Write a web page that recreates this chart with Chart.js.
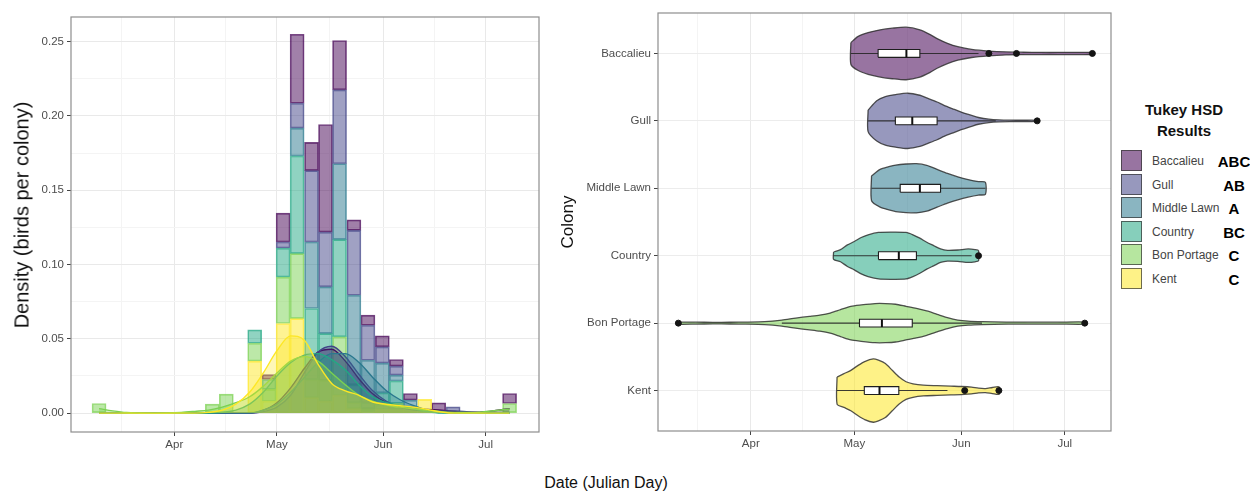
<!DOCTYPE html>
<html><head><meta charset="utf-8">
<script src="https://cdn.jsdelivr.net/npm/chart.js@4.4.1/dist/chart.umd.min.js"></script>
<style>
html,body{margin:0;padding:0;background:#fff;width:1250px;height:496px;overflow:hidden;font-family:"Liberation Sans",Arial,sans-serif;}
canvas{position:absolute;top:0;}
#c1{left:0;}
#c2{left:540px;}
.t{position:absolute;white-space:nowrap;color:#111;}
.rot{width:400px;text-align:center;transform:translate(-50%,-50%) rotate(-90deg);}
.ctr{transform:translate(-50%,-50%);}
.key{position:absolute;width:21px;height:21px;box-sizing:border-box;}
.lab{position:absolute;font-size:12px;color:#444;transform:translateY(-50%);white-space:nowrap;}
.let{position:absolute;font-size:15px;font-weight:bold;color:#000;transform:translate(-50%,-50%);}
</style></head><body>
<canvas id="c1" width="560" height="470"></canvas>
<canvas id="c2" width="580" height="470"></canvas>
<div class="t rot" style="left:22px;top:215px;font-size:20px;">Density (birds per colony)</div>
<div class="t rot" style="left:568px;top:222px;font-size:17px;">Colony</div>
<div class="t ctr" style="left:606px;top:483px;font-size:16px;">Date (Julian Day)</div>
<div class="t ctr" style="left:1184px;top:109px;font-size:15px;font-weight:bold;">Tukey HSD</div>
<div class="t ctr" style="left:1184px;top:130px;font-size:15px;font-weight:bold;">Results</div>
<div id="legend"></div>
<script>
// ---------------- data ----------------
const colonies = ['Baccalieu','Gull','Middle Lawn','Country','Bon Portage','Kent'];
const colonyColors = ['#440154','#414487','#2A788E','#22A884','#7AD151','#FDE725'];
const tukeyLetters = ['ABC','AB','A','BC','C','C'];

const monthTickDays = [91,121,152,182];
const monthTickLabels = ['Apr','May','Jun','Jul'];
const monthMinorDays = [75.5,106,136.5,167];
const densityTicks = [0,0.05,0.10,0.15,0.20,0.25];
const densityMinorTicks = [0.025,0.075,0.125,0.175,0.225];

// histogram bins (day-of-year centres)
const binCenters = [69.0,73.1,77.3,81.4,85.6,89.7,93.8,98.0,102.1,106.2,110.4,114.5,118.7,122.8,126.9,131.1,135.2,139.3,143.5,147.6,151.8,155.9,160.0,164.2,168.3,172.5,176.6,180.7,184.9,189.0];
const histBaccalieu  = [0,0,0,0,0,0,0,0,0,0,0,0,0.0034,0.0195,0.0464,0.019,0.0724,0.0332,0.007,0.0068,0.0074,0.0045,0.0045,0,0.0069,0,0,0,0,0.0067];
const histGull       = [0,0,0,0,0,0,0,0,0,0,0,0,0,0.0041,0.0168,0.048,0.0369,0.0497,0.0437,0.0235,0.011,0.006,0,0,0,0.0042,0,0,0,0];
const histMiddleLawn = [0,0,0,0,0,0,0,0,0,0,0,0,0,0,0.0187,0.0447,0.0314,0.0511,0.0603,0.0286,0.020,0.004,0.0047,0,0,0,0,0,0,0];
const histCountry    = [0,0,0,0,0,0,0,0,0,0,0,0.009,0.0066,0.0195,0.0657,0.048,0.0315,0.0654,0.012,0.004,0.008,0.015,0,0,0,0,0,0,0,0];
const histBonPortage = [0.0065,0,0,0,0,0,0,0,0.006,0.0128,0,0.012,0.008,0.0312,0.0437,0.012,0.014,0.0393,0.004,0.002,0.003,0.004,0,0,0,0,0,0,0,0.0065];
const histKent       = [0,0,0,0,0,0,0,0,0,0,0,0.035,0.008,0.0603,0.0636,0.0104,0.008,0.012,0.003,0.001,0.0026,0.0026,0.004,0.0092,0,0,0,0,0,0];

// density curves
const densityDays = [69,73,77,81,85,89,93,97,101,105,109,113,117,121,125,129,133,137,141,145,149,153,157,161,165,169,173,177,181,185,189];
const densBaccalieu  = [0,0,0,0,0,0,0,0,0,0,0,0,0.002,0.007,0.017,0.030,0.041,0.043,0.035,0.023,0.013,0.007,0.004,0.003,0.0025,0.002,0.001,0.0006,0.0008,0.0018,0.003];
const densGull       = [0,0,0,0,0,0,0,0,0,0,0,0,0.001,0.004,0.012,0.027,0.041,0.045,0.038,0.026,0.015,0.008,0.004,0.002,0.0015,0.0015,0.0015,0.0008,0.0003,0,0];
const densMiddleLawn = [0,0,0,0,0,0,0,0,0,0,0,0,0.002,0.006,0.014,0.024,0.034,0.040,0.040,0.034,0.024,0.015,0.009,0.005,0.002,0.0005,0,0,0,0,0];
const densCountry    = [0,0,0,0,0,0,0,0,0,0.0005,0.002,0.006,0.014,0.025,0.034,0.039,0.040,0.036,0.029,0.019,0.011,0.007,0.005,0.003,0.001,0,0,0,0,0,0];
const densBonPortage = [0.003,0.0015,0.0004,0.0001,0,0.0001,0.0005,0.0012,0.002,0.004,0.007,0.011,0.018,0.027,0.035,0.038,0.035,0.027,0.019,0.012,0.008,0.0055,0.004,0.003,0.002,0.001,0.0005,0.0004,0.0008,0.0018,0.0028];
const densKent       = [0,0,0,0,0,0,0,0,0.0005,0.002,0.006,0.014,0.027,0.042,0.052,0.049,0.033,0.020,0.015,0.012,0.0075,0.006,0.005,0.004,0.0025,0.0008,0,0,0,0,0];

// violin profiles (day, half-width in category units)
const violinDaysBaccalieu  = [120,122,125,128.5,132,136,140,143,145,148,151,155,160,165,170,175,180,185,190];
const violinHalfBaccalieu  = [0.16,0.25,0.31,0.35,0.375,0.39,0.35,0.28,0.22,0.15,0.1,0.06,0.035,0.022,0.018,0.016,0.016,0.016,0.014];
const violinDaysGull       = [125,127.5,130,133,136.5,140,142,145,147,150,152,155,157,160,163,166,170,174];
const violinHalfGull       = [0.16,0.3,0.36,0.39,0.41,0.38,0.34,0.28,0.23,0.17,0.13,0.08,0.05,0.025,0.014,0.01,0.009,0.008];
const violinDaysMiddleLawn = [126,128.5,131,133,136,139,142,145,148,151,154,157,159];
const violinHalfMiddleLawn = [0.185,0.28,0.32,0.345,0.36,0.365,0.34,0.28,0.22,0.17,0.13,0.1,0.09];
const violinDaysCountry    = [115,117,119,121,123,125,128,132,136,138,140,142,144,146,148,151,154,156,157];
const violinHalfCountry    = [0.055,0.09,0.16,0.21,0.27,0.31,0.345,0.35,0.345,0.31,0.26,0.2,0.15,0.1,0.08,0.085,0.1,0.09,0.075];
const violinDaysBonPortage = [70,75,80,85,90,95,100,104,108,111,114,117,120,123,127,130,133,136,139,142,145,148,151,154,158,165,172,180,188];
const violinHalfBonPortage = [0.016,0.014,0.012,0.013,0.015,0.022,0.045,0.075,0.1,0.12,0.15,0.2,0.25,0.27,0.29,0.29,0.28,0.25,0.22,0.18,0.13,0.08,0.045,0.03,0.022,0.016,0.014,0.014,0.016];
const violinDaysKent       = [116,118,120,122,124,126.5,128,130,132,134,136,138,141,145,149,152,155,157,159,161,163];
const violinHalfKent       = [0.2,0.25,0.3,0.37,0.43,0.47,0.45,0.4,0.3,0.2,0.13,0.1,0.08,0.072,0.065,0.06,0.05,0.035,0.03,0.045,0.055];

// box plot summaries (same order as colonies)
const boxQ1      = [127.9,132.9,134.3,128.0,122.5,123.9];
const boxMedian  = [136.1,137.8,140.0,133.9,129.0,128.3];
const boxQ3      = [140.0,145.0,146.0,139.0,137.8,133.9];
const whiskerLow = [120,125,126,115,100,116];
const whiskerHigh= [157,162,159,155,158,148];
const outlierColony = ['Baccalieu','Baccalieu','Baccalieu','Gull','Country','Bon Portage','Bon Portage','Kent','Kent'];
const outlierDay    = [160,168,190,174,157,70,187.8,153,162.9];

// ---------------- helpers ----------------
const histByColony = [histBaccalieu,histGull,histMiddleLawn,histCountry,histBonPortage,histKent];
const densByColony = [densBaccalieu,densGull,densMiddleLawn,densCountry,densBonPortage,densKent];
const vDaysByColony = [violinDaysBaccalieu,violinDaysGull,violinDaysMiddleLawn,violinDaysCountry,violinDaysBonPortage,violinDaysKent];
const vHalfByColony = [violinHalfBaccalieu,violinHalfGull,violinHalfMiddleLawn,violinHalfCountry,violinHalfBonPortage,violinHalfKent];

function rgba(hex,a){const n=parseInt(hex.slice(1),16);return `rgba(${(n>>16)&255},${(n>>8)&255},${n&255},${a})`;}
const near=(v,arr)=>arr.some(a=>Math.abs(a-v)<1e-6);
const FONT='"Liberation Sans", Arial, sans-serif';
Chart.defaults.font.family = FONT;
Chart.defaults.animation = false;

const frame = {id:'frame', afterDraw(chart){const {ctx,chartArea:a}=chart;ctx.save();ctx.strokeStyle='#8e8e8e';ctx.lineWidth=1.2;ctx.strokeRect(a.left,a.top,a.right-a.left,a.bottom-a.top);ctx.restore();}};

function dateAxis(min,max,h){
  return {type:'linear',min,max,offset:false,stacked:true,
    afterBuildTicks:a=>{a.ticks=[...monthMinorDays,...monthTickDays].sort((p,q)=>p-q).map(v=>({value:v}));},
    ticks:{autoSkip:false,maxRotation:0,color:'#4d4d4d',font:{size:11.5},padding:2,
      callback:v=>{const j=monthTickDays.findIndex(d=>Math.abs(d-v)<1e-6);return j>=0?monthTickLabels[j]:'';}},
    grid:{offset:false,lineWidth:1,drawTicks:true,tickLength:4,tickWidth:1,
      color:c=>near(c.tick.value,monthTickDays)?'#e9e9e9':'#f4f4f4',
      tickColor:c=>near(c.tick.value,monthTickDays)?'#444':'rgba(0,0,0,0)'},
    border:{display:false},
    afterFit:s=>{s.height=h;}};
}

// ---------------- left chart ----------------
const leftSets=[];
for(let i=colonies.length-1;i>=0;i--){
  leftSets.push({type:'bar',label:colonies[i],
    data:binCenters.map((x,k)=>({x,y:histByColony[i][k]>0?histByColony[i][k]:null})),
    backgroundColor:rgba(colonyColors[i],0.5),borderColor:rgba(colonyColors[i],0.72),borderWidth:1,borderSkipped:false,
    barPercentage:1,categoryPercentage:1,order:20,yAxisID:'y'});
}
colonies.forEach((name,i)=>{
  leftSets.push({type:'line',label:name+' density',
    data:densityDays.map((x,k)=>({x,y:densByColony[i][k]})),
    borderColor:colonyColors[i],borderWidth:1.4,backgroundColor:rgba(colonyColors[i],0.33),
    fill:'origin',pointRadius:0,cubicInterpolationMode:'monotone',order:6-i,yAxisID:'y2'});
});
const yMinL=-0.0127,yMaxL=0.2665;
new Chart(document.getElementById('c1'),{
  type:'bar',
  data:{datasets:leftSets},
  options:{responsive:false,devicePixelRatio:1,animation:false,
    layout:{padding:{left:0,top:17,right:21,bottom:0}},
    plugins:{legend:{display:false},tooltip:{enabled:false}},
    scales:{
      x:dateAxis(60.8,197.6,38),
      y:{type:'linear',min:yMinL,max:yMaxL,stacked:true,
        afterBuildTicks:a=>{a.ticks=[...densityTicks,...densityMinorTicks].sort((p,q)=>p-q).map(v=>({value:v}));},
        ticks:{autoSkip:false,color:'#4d4d4d',font:{size:11.5},padding:3,
          callback:v=>near(v,densityTicks)?v.toFixed(2):''},
        grid:{lineWidth:1,drawTicks:true,tickLength:4,tickWidth:1,
          color:c=>near(c.tick.value,densityTicks)?'#e9e9e9':'#f4f4f4',
          tickColor:c=>near(c.tick.value,densityTicks)?'#444':'rgba(0,0,0,0)'},
        border:{display:false},
        afterFit:s=>{s.width=71;}},
      y2:{type:'linear',display:false,min:yMinL,max:yMaxL,stacked:false}
    }},
  plugins:[frame]
});

// ---------------- right chart ----------------
const BOX_H=0.058;
const posOf=i=>colonies.length-i;
const rightSets=[];
colonies.forEach((name,i)=>{
  const yc=posOf(i), ds=vDaysByColony[i], hs=vHalfByColony[i];
  const top=ds.map((d,k)=>({x:d,y:yc+hs[k]}));
  const bot=ds.map((d,k)=>({x:d,y:yc-hs[k]})).reverse();
  rightSets.push({label:name+' violin',data:[...top,...bot,top[0]],showLine:true,fill:'shape',tension:0.25,
    backgroundColor:rgba(colonyColors[i],0.55),borderColor:'rgba(40,40,40,0.8)',borderWidth:1.3,pointRadius:0,order:5});
  rightSets.push({label:name+' whisker',data:[{x:whiskerLow[i],y:yc},{x:whiskerHigh[i],y:yc}],showLine:true,
    borderColor:'rgba(40,40,40,0.9)',borderWidth:1.1,pointRadius:0,order:4});
  rightSets.push({label:name+' box',data:[{x:boxQ1[i],y:yc-BOX_H},{x:boxQ3[i],y:yc-BOX_H},{x:boxQ3[i],y:yc+BOX_H},{x:boxQ1[i],y:yc+BOX_H},{x:boxQ1[i],y:yc-BOX_H}],
    showLine:true,fill:'shape',tension:0,backgroundColor:'#ffffff',borderColor:'#1e1e1e',borderWidth:1.1,pointRadius:0,order:3});
  rightSets.push({label:name+' median',data:[{x:boxMedian[i],y:yc-BOX_H},{x:boxMedian[i],y:yc+BOX_H}],showLine:true,
    borderColor:'#111',borderWidth:2,pointRadius:0,order:2});
});
rightSets.push({label:'outliers',data:outlierDay.map((d,k)=>({x:d,y:posOf(colonies.indexOf(outlierColony[k]))})),
  showLine:false,pointRadius:3,pointBackgroundColor:'#141414',pointBorderColor:'#141414',order:1});

new Chart(document.getElementById('c2'),{
  type:'scatter',
  data:{datasets:rightSets},
  options:{responsive:false,devicePixelRatio:1,animation:false,
    layout:{padding:{left:0,top:13,right:9,bottom:0}},
    plugins:{legend:{display:false},tooltip:{enabled:false}},
    scales:{
      x:dateAxis(64.1,195.4,39),
      y:{type:'linear',min:0.4,max:6.6,
        afterBuildTicks:a=>{a.ticks=colonies.map((c,i)=>({value:posOf(i)})).reverse();},
        ticks:{autoSkip:false,color:'#4d4d4d',font:{size:11.5},padding:3,
          callback:v=>{const i=colonies.length-Math.round(v);return colonies[i]||'';}},
        grid:{lineWidth:1,drawTicks:true,tickLength:4,tickWidth:1,color:'#ececec',tickColor:'#444'},
        border:{display:false},
        afterFit:s=>{s.width=118;}}
    }},
  plugins:[frame]
});

// ---------------- legend ----------------
const lg=document.getElementById('legend');
colonies.forEach((name,i)=>{
  const top=150+i*23.5;
  const k=document.createElement('div');k.className='key';
  k.style.left='1121px';k.style.top=top+'px';
  k.style.background=rgba(colonyColors[i],0.55);k.style.border='1px solid rgba(50,50,50,0.7)';
  lg.appendChild(k);
  const l=document.createElement('div');l.className='lab';l.textContent=name;
  l.style.left='1152px';l.style.top=(top+11)+'px';lg.appendChild(l);
  const t=document.createElement('div');t.className='let';t.textContent=tukeyLetters[i];
  t.style.left='1234px';t.style.top=(top+11)+'px';lg.appendChild(t);
});
</script>
</body></html>
